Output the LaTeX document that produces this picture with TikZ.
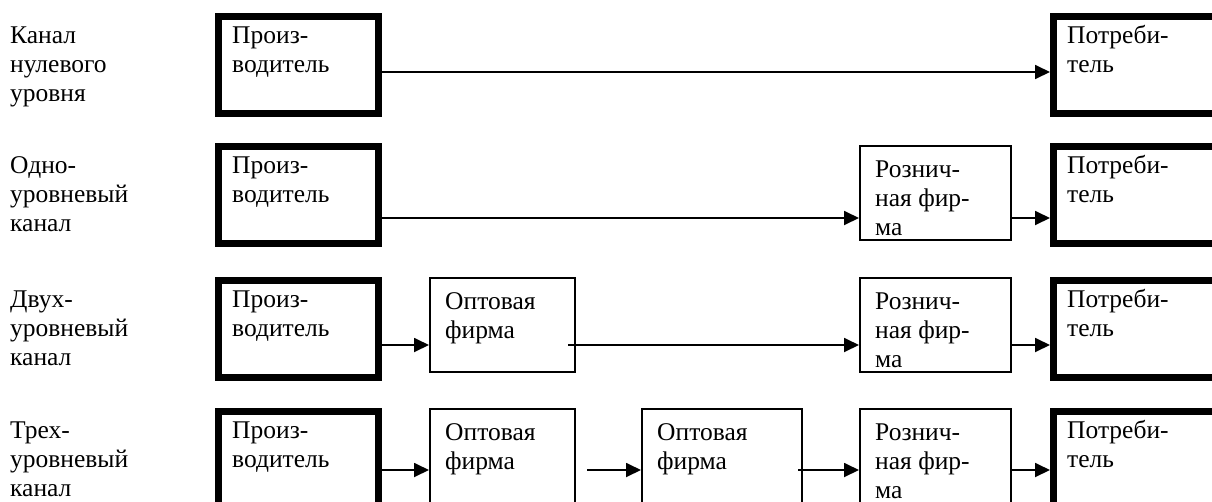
\documentclass[tikz,border=0pt]{standalone}
\usepackage{fontspec}
\setmainfont{Liberation Serif}
\usetikzlibrary{arrows.meta,calc}
\newcommand\txtii[2]{\vtop{\hbox{#1}\hbox{#2}}}
\newcommand\txtiii[3]{\vtop{\hbox{#1}\hbox{#2}\hbox{#3}}}
\tikzset{
 thickbox/.style={draw,line width=7pt,anchor=north west,inner sep=0pt,minimum width=160pt,minimum height=97pt},
 thinbox/.style={draw,line width=1.8pt,anchor=north west,inner sep=0pt,minimum height=94.2pt},
 lbl/.style={anchor=base west,inner sep=0pt,font=\fontsize{25.5}{29}\selectfont},
 arr/.style={line width=1.8pt,-{Triangle[length=15pt,width=14pt]}}
}
\begin{document}
\begin{tikzpicture}[x=1pt,y=-1pt]
\useasboundingbox (0,0) rectangle (1212,501);
\clip (0,0) rectangle (1212,501);
% ---------- row labels
\node[lbl] (l1) at (10,43) {\txtiii{Канал}{нулевого}{уровня}};
\node[lbl] (l2) at (10,173) {\txtiii{Одно-}{уровневый}{канал}};
\node[lbl] (l3) at (10,307) {\txtiii{Двух-}{уровневый}{канал}};
\node[lbl] (l4) at (10,438) {\txtiii{Трех-}{уровневый}{канал}};
% ---------- row 1
\node[thickbox] (p1) at (215,13) {};
\node[thickbox,minimum width=200pt] (c1) at (1050,13) {};
\node[lbl] (p1t) at ($(p1.north west)+(17,30)$) {\txtii{Произ-}{водитель}};
\node[lbl] (c1t) at ($(c1.north west)+(17,30)$) {\txtii{Потреби-}{тель}};
\coordinate (y1) at (0,72);
\draw[arr] ($(p1.east |- y1)+(-7,0)$) -- (c1.west |- y1);
% ---------- row 2
\node[thickbox] (p2) at (215,143) {};
\node[thinbox,minimum width=151.2pt] (r2) at (859,145) {};
\node[thickbox,minimum width=200pt] (c2) at (1050,143) {};
\node[lbl] (p2t) at ($(p2.north west)+(17,30)$) {\txtii{Произ-}{водитель}};
\node[lbl] (r2t) at ($(r2.north west)+(16,32)$) {\txtiii{Рознич-}{ная фир-}{ма}};
\node[lbl] (c2t) at ($(c2.north west)+(17,30)$) {\txtii{Потреби-}{тель}};
\coordinate (y2) at (0,218);
\draw[arr] ($(p2.east |- y2)+(-5,0)$) -- (r2.west |- y2);
\draw[arr] ($(r2.east |- y2)+(-2,0)$) -- (c2.west |- y2);
% ---------- row 3
\node[thickbox] (p3) at (215,277) {};
\node[thinbox,minimum width=145.2pt] (w3) at (429,277) {};
\node[thinbox,minimum width=151.2pt] (r3) at (859,277) {};
\node[thickbox,minimum width=200pt] (c3) at (1050,277) {};
\node[lbl] (p3t) at ($(p3.north west)+(17,30)$) {\txtii{Произ-}{водитель}};
\node[lbl] (w3t) at ($(w3.north west)+(16,32)$) {\txtii{Оптовая}{фирма}};
\node[lbl] (r3t) at ($(r3.north west)+(16,32)$) {\txtiii{Рознич-}{ная фир-}{ма}};
\node[lbl] (c3t) at ($(c3.north west)+(17,30)$) {\txtii{Потреби-}{тель}};
\coordinate (y3) at (0,345);
\draw[arr] ($(p3.east |- y3)+(-5,0)$) -- (w3.west |- y3);
\draw[arr] ($(w3.east |- y3)+(-8,0)$) -- (r3.west |- y3);
\draw[arr] ($(r3.east |- y3)+(-2,0)$) -- (c3.west |- y3);
% ---------- row 4
\node[thickbox] (p4) at (215,408) {};
\node[thinbox,minimum width=145.2pt] (w4) at (429,408) {};
\node[thinbox,minimum width=160.2pt] (v4) at (641,408) {};
\node[thinbox,minimum width=151.2pt] (r4) at (859,408) {};
\node[thickbox,minimum width=200pt] (c4) at (1050,408) {};
\node[lbl] (p4t) at ($(p4.north west)+(17,30)$) {\txtii{Произ-}{водитель}};
\node[lbl] (w4t) at ($(w4.north west)+(16,32)$) {\txtii{Оптовая}{фирма}};
\node[lbl] (v4t) at ($(v4.north west)+(16,32)$) {\txtii{Оптовая}{фирма}};
\node[lbl] (r4t) at ($(r4.north west)+(16,32)$) {\txtiii{Рознич-}{ная фир-}{ма}};
\node[lbl] (c4t) at ($(c4.north west)+(17,30)$) {\txtii{Потреби-}{тель}};
\coordinate (y4) at (0,470);
\draw[arr] ($(p4.east |- y4)+(-5,0)$) -- (w4.west |- y4);
\draw[arr] ($(w4.east |- y4)+(11,0)$) -- (v4.west |- y4);
\draw[arr] ($(v4.east |- y4)+(-5,0)$) -- (r4.west |- y4);
\draw[arr] ($(r4.east |- y4)+(-2,0)$) -- (c4.west |- y4);
\end{tikzpicture}
\end{document}
